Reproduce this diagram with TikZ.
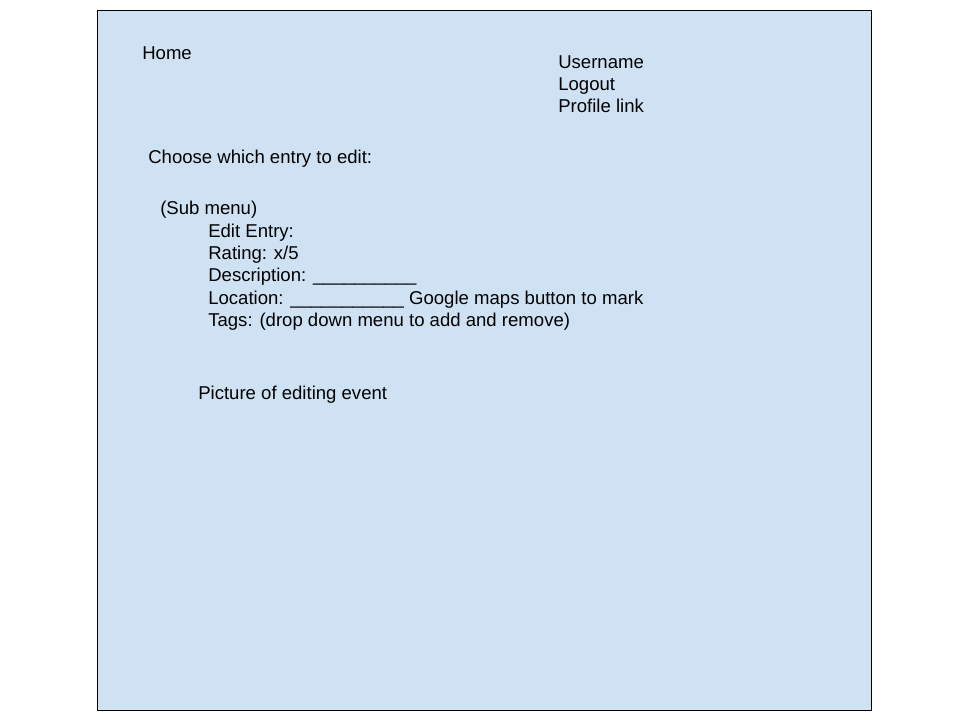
\documentclass[tikz,border=0pt]{standalone}
\usepackage{fontspec}
\setmainfont{Liberation Sans}
\usepackage[]{xcolor}
\definecolor{pagebg}{HTML}{CFE2F3}

\begin{document}
\begin{tikzpicture}[
            x=0.025cm, y=-0.025cm,
            screen/.style={draw=black, fill=pagebg, line width=0.6pt},
            label/.style={anchor=base west, inner sep=0pt, align=left, font=\fontsize{13.2}{15.7}\selectfont},
            menu/.style={label, font=\fontsize{13.2}{15.9}\selectfont}
        ]
            \useasboundingbox (0,0) rectangle (960,720);
            \draw[screen] (97,10) rectangle (871,710);

            % multi-line nodes sit on the baseline of their last line
            \node[label] (home) at (142,59.5) {Home};
            \node[label] (user) at (558,112.5) {Username\\Logout\\Profile link};
            \node[label] (choose) at (148,163.5) {Choose which entry to edit:};
            \node[label] (submenu) at (160,214.5) {(Sub menu)};
            \node[menu] (edit) at (208,326.5) {Edit Entry:\\Rating: x/5\\Description: \_\_\_\_\_\_\_\_\_\_\\Location: \_\_\_\_\_\_\_\_\_\_\_ Google maps button to mark\\Tags: (drop down menu to add and remove)};
            \node[label] (picture) at (198,400) {Picture of editing event};
        \end{tikzpicture}
\end{document}
